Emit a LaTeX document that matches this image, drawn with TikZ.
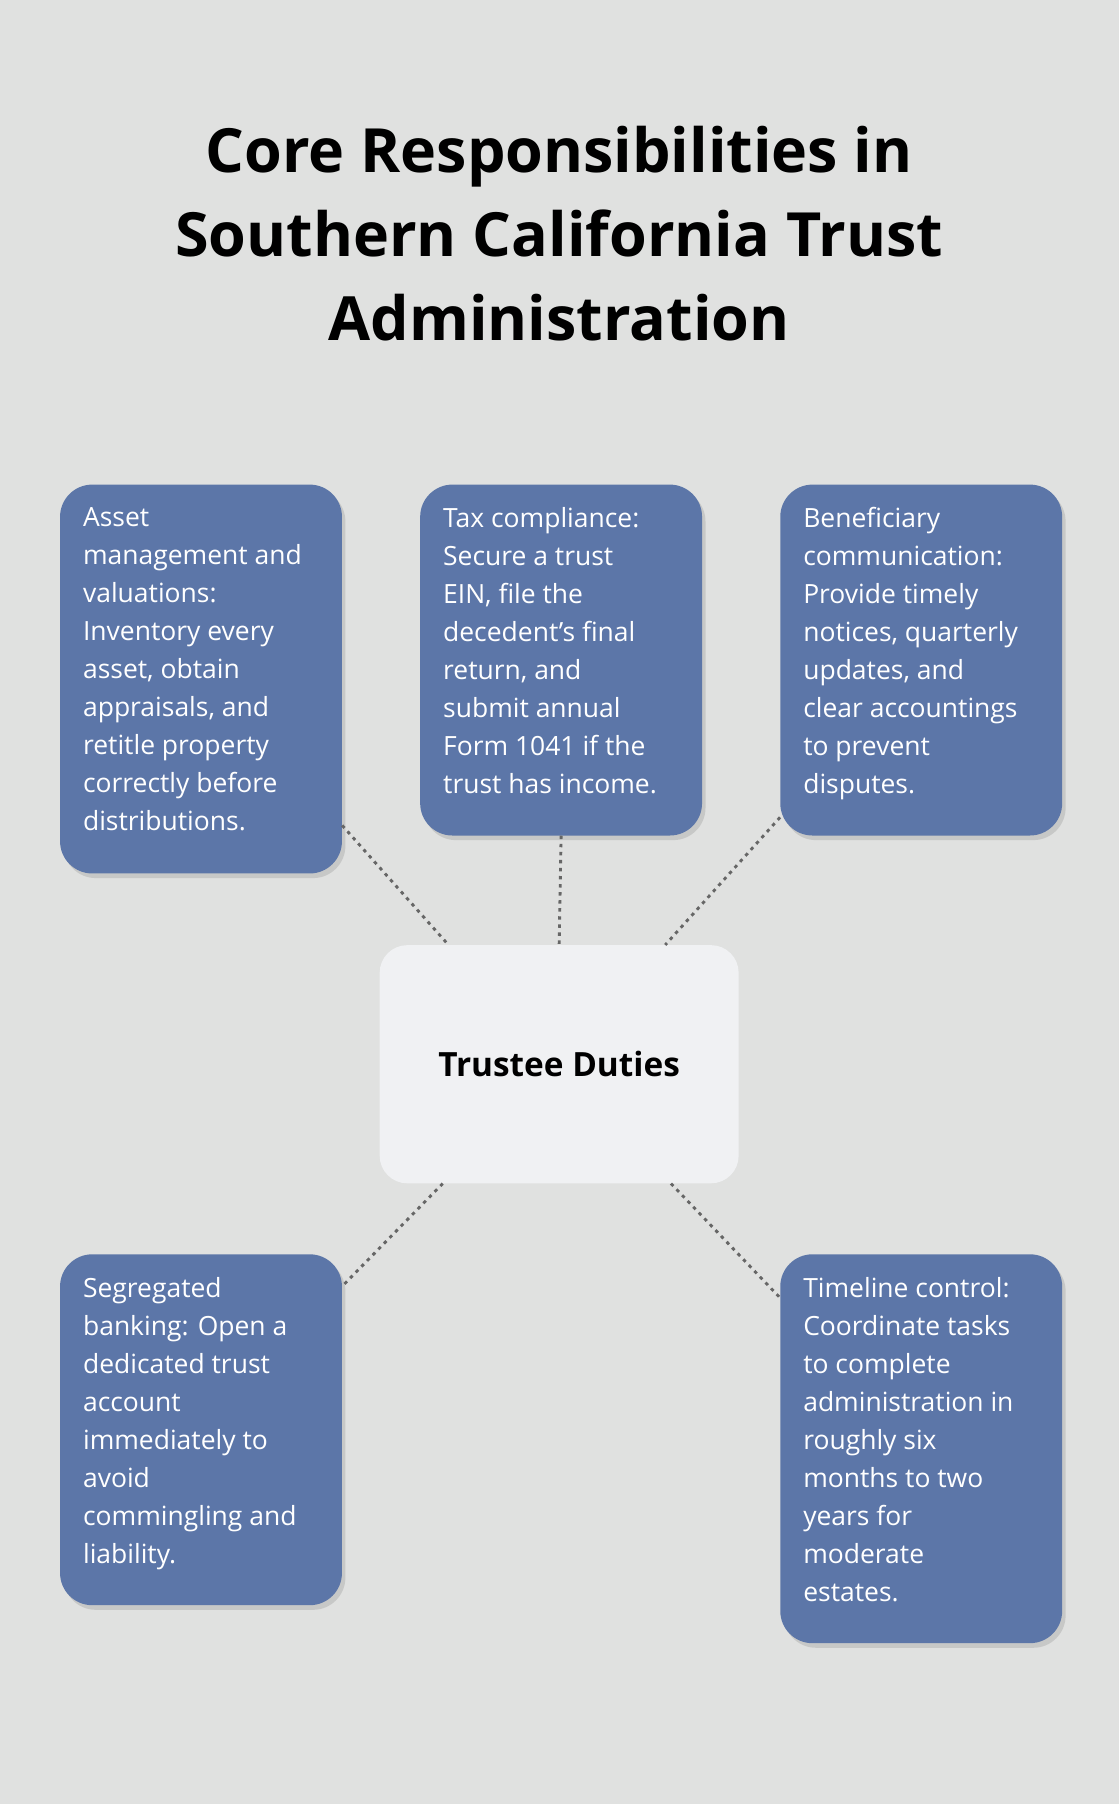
\documentclass[tikz,border=0pt]{standalone}
\usepackage{fontspec}
\setmainfont{Open Sans}
\usetikzlibrary{shadows, calc}
\definecolor{bgcol}{HTML}{E0E1E0}
\definecolor{dutycol}{HTML}{5C76A8}
\definecolor{centercol}{HTML}{F0F1F3}
\newcommand{\dutytext}[2]{\parbox[t][#1][t]{205bp}{\raggedright #2}}
\tikzstyle{duty} = [rectangle, rounded corners=28bp, fill=dutycol, text=white, inner xsep=20bp, inner ysep=20bp, font=\fontsize{23bp}{33bp}\selectfont, anchor=north west, drop shadow={shadow xshift=3bp, shadow yshift=-4bp, opacity=0.25}]
\tikzstyle{hub} = [rectangle, rounded corners=24bp, fill=centercol, minimum width=312bp, minimum height=207bp, font=\fontsize{29bp}{34bp}\selectfont\bfseries]
\tikzstyle{link} = [dash pattern=on 3bp off 4bp, line width=2.5bp, draw=black!60]

\begin{document}
\begin{tikzpicture}[x=1bp, y=-1bp]
\fill[bgcol] (0,0) rectangle (973,1568);
\useasboundingbox (0,0) rectangle (973,1568);
\node (title) at (486,203) [align=center, font=\fontsize{53bp}{73bp}\selectfont\bfseries] {Core Responsibilities in\\Southern California Trust\\Administration};
\node (duties) at (486,925) [hub] {Trustee Duties};
\node (asset) at (52,421) [duty] {\dutytext{298bp}{Asset\\management and\\valuations:\\Inventory every\\asset, obtain\\appraisals, and\\retitle property\\correctly before\\distributions.}};
\node (tax) at (365,421) [duty] {\dutytext{265bp}{Tax compliance:\\Secure a trust\\EIN, file the\\decedent’s final\\return, and\\submit annual\\Form 1041 if the\\trust has income.}};
\node (benef) at (678,421) [duty] {\dutytext{265bp}{Beneficiary\\communication:\\Provide timely\\notices, quarterly\\updates, and\\clear accountings\\to prevent\\disputes.}};
\node (bank) at (52,1090) [duty] {\dutytext{265bp}{Segregated\\banking: Open a\\dedicated trust\\account\\immediately to\\avoid\\commingling and\\liability.}};
\node (timeline) at (678,1090) [duty] {\dutytext{298bp}{Timeline control:\\Coordinate tasks\\to complete\\administration in\\roughly six\\months to two\\years for\\moderate\\estates.}};
\draw [link] ($(asset.south east)+(0,-42)$) -- ($(duties.north west)+(60,0)$);
\draw [link] (tax.south) -- (duties.north);
\draw [link] ($(benef.south west)+(0,-16)$) -- ($(duties.north east)+(-64,0)$);
\draw [link] ($(duties.south west)+(55,0)$) -- ($(bank.north east)+(0,28)$);
\draw [link] ($(duties.south east)+(-59,0)$) -- ($(timeline.north west)+(0,38)$);
\end{tikzpicture}
\end{document}
